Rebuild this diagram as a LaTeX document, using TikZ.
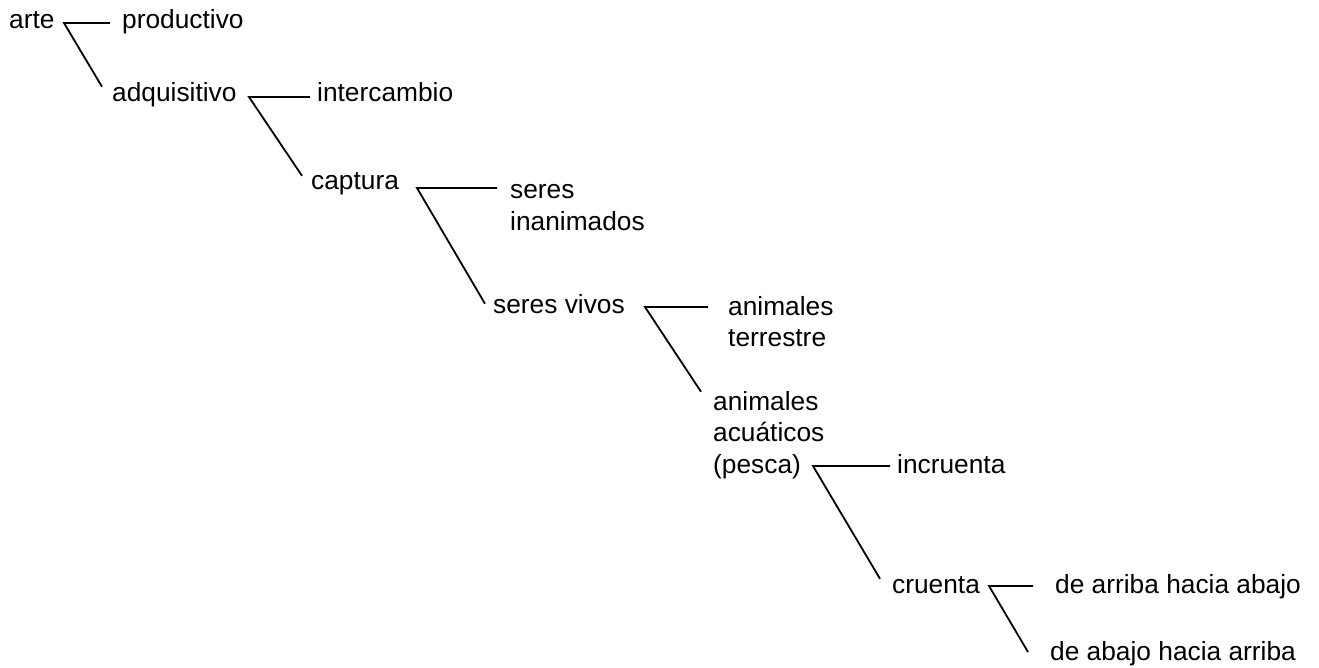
\documentclass[tikz,border=0pt]{standalone}
\usepackage{fontspec}
\setmainfont{Liberation Sans}
\newcommand{\lbl}[1]{\begin{tabular}[t]{@{}l@{}}#1\end{tabular}}
\begin{document}
\begin{tikzpicture}[x=1pt,y=-1pt,
  lab/.style={anchor=base west,inner sep=0pt,font=\fontsize{26.3}{31.5}\selectfont},
  conn/.style={line width=1.8pt,line join=miter}]
\useasboundingbox (0,0) rectangle (1319,668);
% labels
\node[lab] (arte) at (9,29) {arte};
\node[lab] (prod) at (122,29) {productivo};
\node[lab] (adq) at (112,102) {adquisitivo};
\node[lab] (inter) at (317,102) {intercambio};
\node[lab] (capt) at (311,190) {captura};
\node[lab] (inan) at (510,199) {\lbl{seres\\inanimados}};
\node[lab] (vivos) at (493,313) {seres vivos};
\node[lab] (terr) at (728,315) {\lbl{animales\\terrestre}};
\node[lab] (acua) at (713,410) {\lbl{animales\\acuáticos\\(pesca)}};
\node[lab] (incr) at (897,473) {incruenta};
\node[lab] (cru) at (892,593) {cruenta};
\node[lab] (arr) at (1055,593) {de arriba hacia abajo};
\node[lab] (aba) at (1050,660) {de abajo hacia arriba};
% corners
\coordinate (k1) at (64,23);
\coordinate (k2) at (249,97);
\coordinate (k3) at (417,188);
\coordinate (k4) at (645,307);
\coordinate (k5) at (813,466);
\coordinate (k6) at (989,586);
% connectors
\draw[conn] ([xshift=-12pt]prod.west |- k1) -- (k1) -- ([xshift=-10pt,yshift=-4pt]adq.north west);
\draw[conn] ([xshift=-7pt]inter.west |- k2) -- (k2) -- ([xshift=-9pt,yshift=-3pt]capt.north west);
\draw[conn] ([xshift=-13pt]inan.west |- k3) -- (k3) -- ([xshift=-8pt,yshift=-10pt]vivos.north west);
\draw[conn] ([xshift=-20pt]terr.west |- k4) -- (k4) -- ([xshift=-12pt,yshift=-4pt]acua.north west);
\draw[conn] ([xshift=-7pt]incr.west |- k5) -- (k5) -- ([xshift=-12pt,yshift=-3pt]cru.north west);
\draw[conn] ([xshift=-22pt]arr.west |- k6) -- (k6) -- ([xshift=-22pt,yshift=8pt]aba.base west);
\end{tikzpicture}
\end{document}
